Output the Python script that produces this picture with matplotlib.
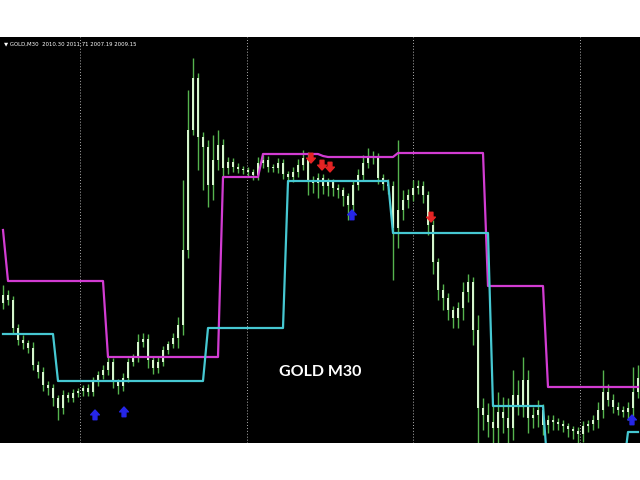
import numpy as np
import matplotlib.pyplot as plt

# GOLD M30 candles (price in chart units), one per bar
first_open = 140
closes = [
    148, 143, 115, 103, 100, 95, 78, 71, 58, 55,
    45, 35, 48, 45, 50, 52, 55, 51, 61, 68,
    73, 81, 61, 57, 65, 81, 85, 101, 104, 83,
    75, 81, 93, 99, 105, 118, 193, 313, 365, 306,
    296, 258, 283, 298, 275, 281, 276, 274, 273, 271,
    268, 280, 283, 276, 275, 280, 269, 266, 271, 278,
    285, 263, 260, 265, 257, 261, 255, 253, 247, 238,
    258, 268, 280, 285, 286, 265, 259, 257, 215, 233,
    243, 248, 255, 257, 248, 218, 181, 153, 145, 133,
    125, 135, 151, 161, 113, 35, 28, 21, 15, 31,
    25, 15, 48, 38, 63, 25, 28, 33, 18, 23,
    21, 19, 17, 14, 12, 9, 17, 19, 23, 33,
    51, 43, 36, 33, 31, 35, 51, 65,
]
upper_wick = [
    10, 5, 4, 4, 5, 3, 6, 4, 5, 4,
    4, 3, 5, 3, 4, 3, 3, 4, 5, 4,
    5, 6, 4, 3, 5, 4, 4, 8, 6, 5,
    4, 5, 4, 3, 5, 8, 70, 40, 20, 5,
    5, 7, 25, 15, 6, 5, 4, 4, 3, 3,
    3, 6, 5, 4, 3, 5, 4, 3, 5, 6,
    8, 6, 4, 5, 4, 4, 3, 4, 3, 3,
    5, 6, 8, 10, 6, 4, 4, 5, 5, 70,
    10, 6, 8, 6, 5, 4, 5, 4, 6, 5,
    4, 6, 10, 8, 5, 15, 10, 12, 18, 20,
    15, 20, 25, 15, 23, 10, 8, 10, 6, 5,
    5, 4, 4, 3, 3, 4, 5, 4, 5, 8,
    22, 8, 6, 5, 4, 6, 25, 13,
]
lower_wick = [
    6, 5, 6, 5, 6, 5, 5, 6, 6, 7,
    8, 12, 6, 4, 4, 4, 5, 4, 4, 4,
    4, 5, 6, 8, 5, 4, 4, 4, 5, 8,
    6, 5, 4, 4, 4, 10, 10, 8, 5, 33,
    43, 22, 15, 10, 10, 6, 5, 4, 4, 4,
    5, 5, 5, 5, 4, 5, 5, 6, 5, 5,
    5, 15, 10, 15, 8, 10, 8, 8, 10, 15,
    6, 5, 5, 5, 6, 6, 6, 8, 52, 20,
    10, 8, 6, 6, 8, 10, 12, 10, 12, 10,
    10, 10, 12, 10, 15, 35, 15, 15, 20, 15,
    15, 20, 12, 10, 12, 15, 10, 12, 10, 8,
    8, 6, 6, 8, 8, 10, 8, 6, 6, 8,
    8, 6, 6, 5, 5, 8, 8, 6,
]

# channel lines: (first bar, level)
upper_steps = [(0, 213), (1, 162), (21, 86), (44, 266), (52, 289),
               (64, 287), (65, 286), (79, 290), (97, 157), (109, 56)]
lower_steps = [(0, 109), (11, 62), (41, 115), (57, 262), (78, 210),
               (98, 37), (109, -30), (125, 11)]

# signal arrows: (bar, level)
buy_arrows = [(18.4, 33), (24.2, 36), (69.8, 233), (125.8, 28)]
sell_arrows = [(61.6, 284), (63.8, 277), (65.4, 275), (85.6, 225)]

grid_bars = [15.4, 48.8, 82.0, 115.4]

n = len(closes)
bars = np.arange(n)
closes = np.array(closes, dtype=float)
opens = np.concatenate([[first_open], closes[:-1]])
highs = np.maximum(opens, closes) + np.array(upper_wick)
lows = np.minimum(opens, closes) - np.array(lower_wick)


def steps_to_series(steps):
    out = np.zeros(n)
    for k, (start, level) in enumerate(steps):
        end = steps[k + 1][0] if k + 1 < len(steps) else n
        out[start:end] = level
    return out


upper = steps_to_series(upper_steps)
lower = steps_to_series(lower_steps)

fig = plt.figure(figsize=(6.4, 4.8), dpi=100)
ax = fig.add_axes([0, 37 / 480, 1, 406 / 480])
ax.set_facecolor('black')
ax.set_xlim(-0.6, 127.4)
ax.set_ylim(0, 406)
ax.set_xticks([])
ax.set_yticks([])
for s in ax.spines.values():
    s.set_visible(False)

for g in grid_bars:
    ax.axvline(g, color='#b0b0b0', lw=0.7, ls=(0, (1, 2)), zorder=1)

ax.vlines(bars, lows, highs, color='#56b44e', lw=1.0, zorder=2)
body_bottom = np.minimum(opens, closes)
body_height = np.maximum(np.abs(closes - opens), 1.0)
ax.bar(bars, body_height, bottom=body_bottom, width=0.5,
       color='#d4f5cc', edgecolor='none', zorder=3)

ax.plot(bars, upper, color='#d23cd2', lw=1.6, zorder=4)
ax.plot(bars, lower, color='#46c8d2', lw=1.6, zorder=4)

arrow_style = 'simple,head_length=0.5,head_width=0.9,tail_width=0.4'
for b, lvl in buy_arrows:
    ax.annotate('', xy=(b, lvl), xytext=(0, -7), textcoords='offset points',
                xycoords='data', zorder=5,
                arrowprops=dict(arrowstyle=arrow_style, color='#2626e8',
                                mutation_scale=7, shrinkA=0, shrinkB=0))
for b, lvl in sell_arrows:
    ax.annotate('', xy=(b, lvl - 4), xytext=(0, 7), textcoords='offset points',
                xycoords='data', zorder=5,
                arrowprops=dict(arrowstyle=arrow_style, color='#e42424',
                                mutation_scale=7, shrinkA=0, shrinkB=0))

ax.text(0.006, 0.99, '\u25bc GOLD,M30  2010.30 2011.71 2007.19 2009.15',
        transform=ax.transAxes, color='white', fontsize=3.9,
        ha='left', va='top')
ax.text(0.5, 0.175, 'GOLD M30', transform=ax.transAxes, color='white',
        fontsize=11.5, fontweight='bold', family='Lato',
        ha='center', va='center')

fig.savefig('out.png', dpi=100, facecolor='white')
